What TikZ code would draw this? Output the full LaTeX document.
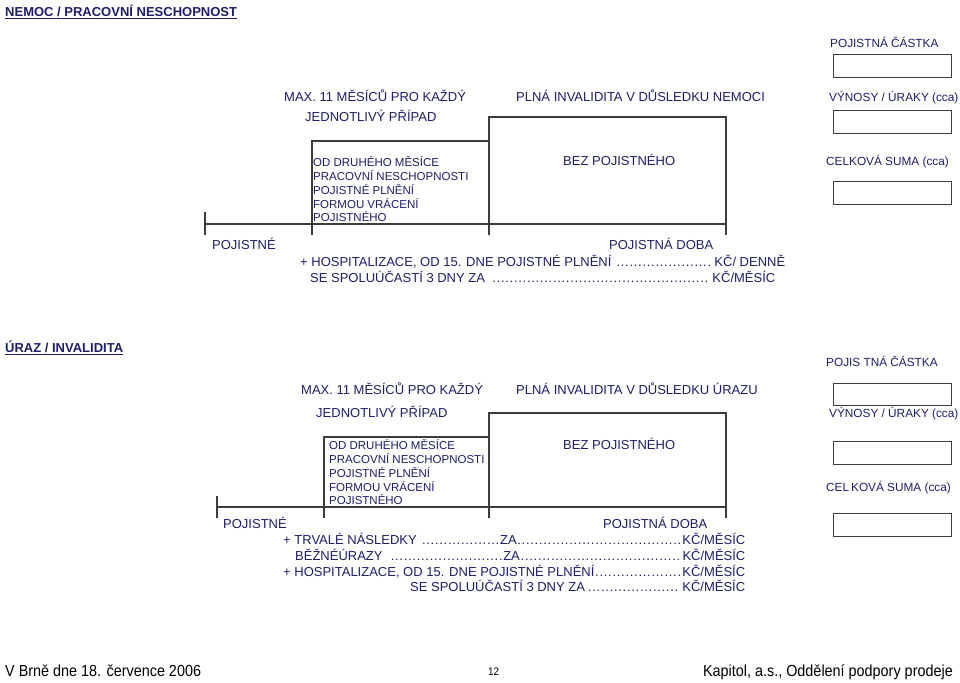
\documentclass[tikz,border=0pt]{standalone}
\usepackage{fontspec}
\setmainfont{Liberation Sans}
\newfontfamily\narrowfont[FakeStretch=0.9]{Liberation Sans}
\definecolor{ink}{RGB}{30,30,105}
\definecolor{lin}{RGB}{60,60,60}
\newcommand\dotleader{\leaders\hbox to 0.333em{\hss.\hss}\hfill}
\newcommand\fixw[2]{\hbox to #1pt{#2}}
\begin{document}
\begin{tikzpicture}[x=1pt,y=-1pt,
  txt/.style={anchor=base west,inner sep=0pt,text=ink,font=\fontsize{13}{15}\selectfont},
  rcol/.style={anchor=base west,inner sep=0pt,text=ink,font=\fontsize{11.8}{14}\selectfont},
  sml/.style={anchor=base west,inner sep=0pt,text=ink,font=\fontsize{11.5}{14}\selectfont},
  ttl/.style={anchor=base west,inner sep=0pt,text=ink,font=\bfseries\fontsize{13}{15}\selectfont},
  valbox/.style={draw=lin,line width=1.3pt,anchor=north west,minimum width=118pt,minimum height=23pt,inner sep=0pt},
  ln/.style={draw=lin,line width=1.3pt},
  foot/.style={anchor=base west,inner sep=0pt,text=black,font=\narrowfont\fontsize{16}{18}\selectfont}]
\path[use as bounding box,fill=white] (0,0) rectangle (960,682);

% ===== top section =====
\node[ttl] (title1) at (5,16.5) {\underline{NEMOC / PRACOVNÍ NESCHOPNOST}};
\node[rcol] (pc1) at (830,47.5) {POJISTNÁ ČÁSTKA};
\node[valbox] (b11) at (833,54) {};
\node[rcol] (vy1) at (829,101.5) {VÝNOSY / ÚRAKY (cca)};
\node[valbox] (b12) at (833,110) {};
\node[rcol] (cs1) at (826,165.5) {CELKOVÁ SUMA (cca)};
\node[valbox] (b13) at (833,181) {};

\node[txt] (max1) at (284,101.5) {MAX. 11 MĚSÍCŮ PRO KAŽDÝ};
\node[txt] (jed1) at (305,121.5) {JEDNOTLIVÝ PŘÍPAD};
\node[txt] (pln1) at (516,101.5) {PLNÁ INVALIDITA V DŮSLEDKU NEMOCI};

\coordinate (t0) at (205,224);
\coordinate (t0a) at (205,212);
\coordinate (t0b) at (205,235);
\coordinate (ta) at (312,235);
\coordinate (taT) at (312,141);
\coordinate (tb) at (489,235);
\coordinate (tbM) at (489,141);
\coordinate (tbT) at (489,117);
\coordinate (tcT) at (726,117);
\coordinate (tc) at (726,235);
\coordinate (tcM) at (726,224);
\draw[ln] (t0) -- (tcM);
\draw[ln] (t0a) -- (t0b);
\draw[ln] (ta) -- (taT) -- (tbM);
\draw[ln] (tb) -- (tbT) -- (tcT) -- (tc);

\node[sml] (s11) at (313,166) {OD DRUHÉHO MĚSÍCE};
\node[sml] (s12) at (313,180) {PRACOVNÍ NESCHOPNOSTI};
\node[sml] (s13) at (313,194) {POJISTNÉ PLNĚNÍ};
\node[sml] (s14) at (313,208) {FORMOU VRÁCENÍ};
\node[sml] (s15) at (313,221) {POJISTNÉHO};
\node[txt] (bez1) at (563,165.5) {BEZ POJISTNÉHO};

\node[txt] (poj1) at (212,249.5) {POJISTNÉ};
\node[txt] (doba1) at (609,249.5) {POJISTNÁ DOBA};
\node[txt] (hosp1) at (300,266.5) {\fixw{485}{+ HOSPITALIZACE, OD 15. DNE POJISTNÉ PLNĚNÍ \dotleader KČ/ DENNĚ}};
\node[txt] (se1) at (310,282.5) {\fixw{465}{SE SPOLUÚČASTÍ 3 DNY ZA \dotleader KČ/MĚSÍC}};

% ===== bottom section =====
\node[ttl] (title2) at (5,352.5) {\underline{ÚRAZ / INVALIDITA}};
\node[rcol] (pc2) at (826,366.5) {POJIS TNÁ ČÁSTKA};
\node[valbox,minimum height=22pt] (b21) at (833,383) {};
\node[rcol] (vy2) at (829,417.5) {VÝNOSY / ÚRAKY (cca)};
\node[valbox] (b22) at (833,441) {};
\node[rcol] (cs2) at (826,491.5) {CEL\kern2pt KOVÁ SUMA (cca)};
\node[valbox] (b23) at (833,513) {};

\node[txt] (max2) at (301,394.5) {MAX. 11 MĚSÍCŮ PRO KAŽDÝ};
\node[txt] (jed2) at (316,417.5) {JEDNOTLIVÝ PŘÍPAD};
\node[txt] (pln2) at (516,394.5) {PLNÁ INVALIDITA V DŮSLEDKU ÚRAZU};

\coordinate (u0) at (217,507);
\coordinate (u0a) at (217,496);
\coordinate (u0b) at (217,518);
\coordinate (ua) at (324,518);
\coordinate (uaT) at (324,437);
\coordinate (ub) at (489,518);
\coordinate (ubM) at (489,437);
\coordinate (ubT) at (489,413);
\coordinate (ucT) at (726,413);
\coordinate (uc) at (726,518);
\coordinate (ucM) at (726,507);
\draw[ln] (u0) -- (ucM);
\draw[ln] (u0a) -- (u0b);
\draw[ln] (ua) -- (uaT) -- (ubM);
\draw[ln] (ub) -- (ubT) -- (ucT) -- (uc);

\node[sml] (s21) at (329,449.5) {OD DRUHÉHO MĚSÍCE};
\node[sml] (s22) at (329,463.5) {PRACOVNÍ NESCHOPNOSTI};
\node[sml] (s23) at (329,477.5) {POJISTNÉ PLNĚNÍ};
\node[sml] (s24) at (329,491.5) {FORMOU VRÁCENÍ};
\node[sml] (s25) at (329,504.5) {POJISTNÉHO};
\node[txt] (bez2) at (563,449.5) {BEZ POJISTNÉHO};

\node[txt] (poj2) at (223,528.5) {POJISTNÉ};
\node[txt] (doba2) at (603,528.5) {POJISTNÁ DOBA};
\node[txt] (trv) at (283,544.5) {\fixw{462}{\fixw{217}{+ TRVALÉ NÁSLEDKY \dotleader}ZA\dotleader KČ/MĚSÍC}};
\node[txt] (bez) at (295,560.5) {\fixw{450}{\fixw{208}{BĚŽNÉÚRAZY \dotleader}ZA\dotleader KČ/MĚSÍC}};
\node[txt] (hosp2) at (283,576.5) {\fixw{462}{+ HOSPITALIZACE, OD 15. DNE POJISTNÉ PLNĚNÍ\dotleader KČ/MĚSÍC}};
\node[txt] (se2) at (410,591.5) {\fixw{335}{SE SPOLUÚČASTÍ 3 DNY ZA\dotleader KČ/MĚSÍC}};

% ===== footer =====
\node[foot] (f1) at (5,676) {V Brně dne 18. července 2006};
\node[foot,font=\narrowfont\fontsize{11}{13}\selectfont] (f2) at (488,675) {12};
\node[foot,anchor=base east] (f3) at (953,676) {Kapitol, a.s., Oddělení podpory prodeje};
\end{tikzpicture}
\end{document}
